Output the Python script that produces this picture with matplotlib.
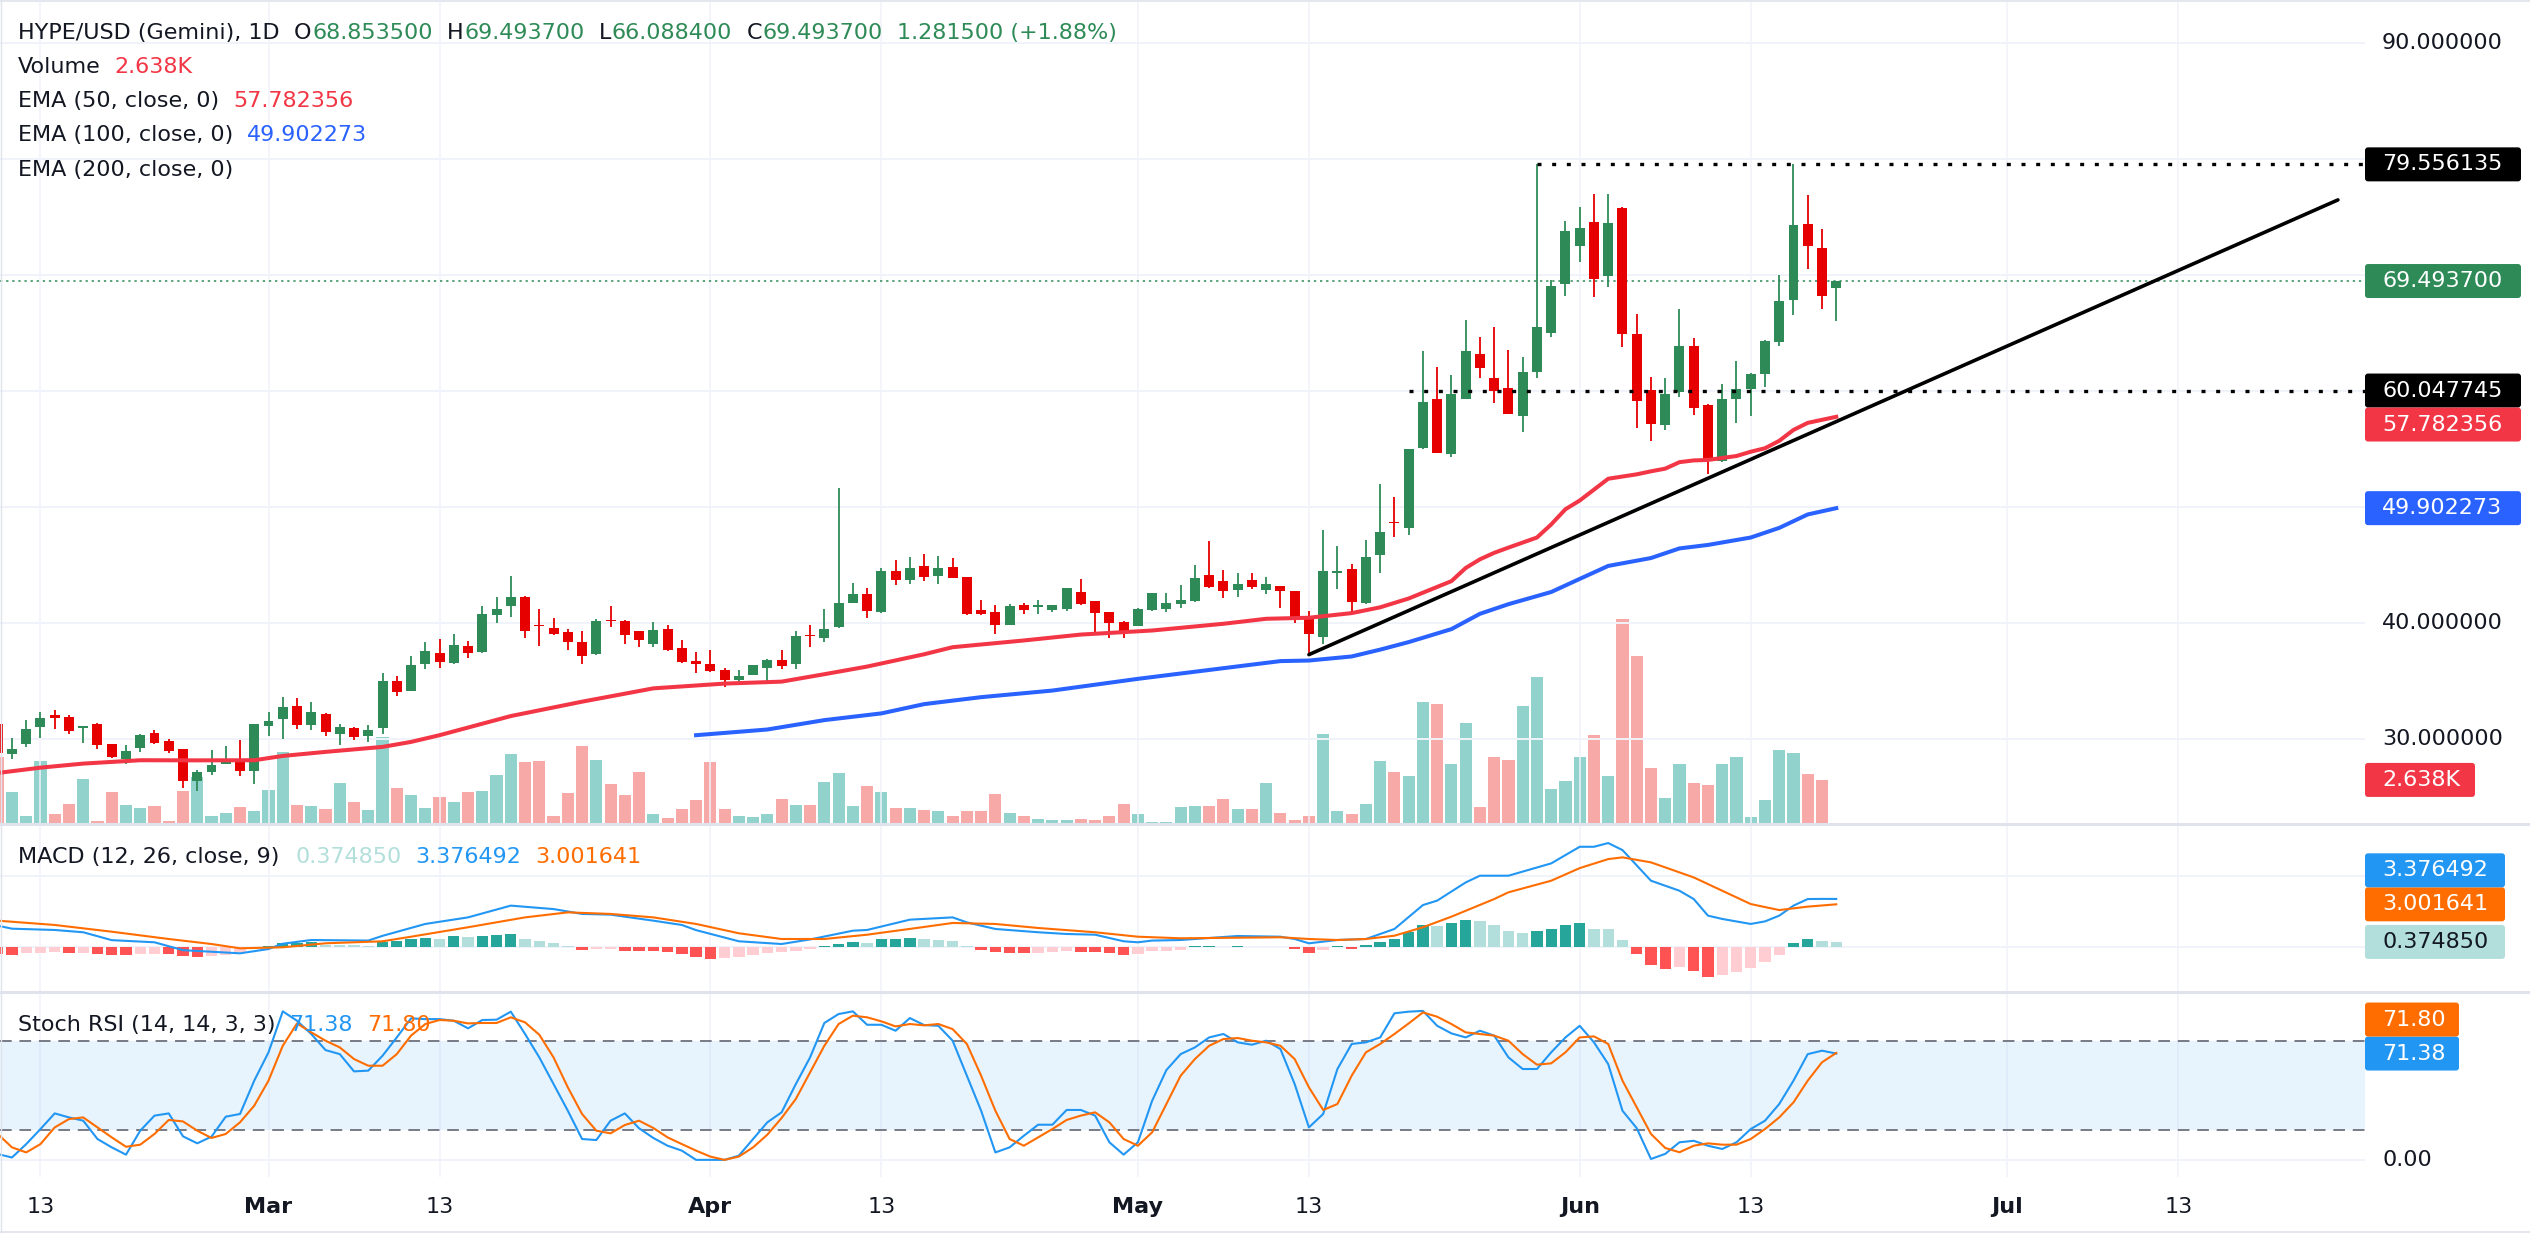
import numpy as np
import matplotlib
matplotlib.use("Agg")
import matplotlib.pyplot as plt
import matplotlib.transforms as mtransforms
from matplotlib.patches import FancyBboxPatch
from matplotlib.lines import Line2D

# ---- data (day 0 = 2025-02-10, day 129 = 2025-06-19) ----
opens = [31.27, 28.73, 29.60, 31.04, 32.05, 31.87, 30.95, 31.27, 29.54, 28.27,
         29.22, 30.52, 29.80, 29.11, 26.37, 27.15, 27.84, 28.07, 27.23, 31.12,
         31.73, 32.82, 31.21, 32.13, 30.43, 30.98, 30.23, 30.95, 34.96, 34.15,
         36.48, 37.38, 36.57, 38.04, 37.49, 40.66, 41.45, 42.25, 39.86, 39.57,
         39.19, 38.32, 37.31, 40.20, 40.20, 39.28, 38.18, 39.45, 37.80, 36.76,
         36.50, 35.98, 35.06, 35.52, 36.10, 36.82, 36.45, 38.95, 38.70, 39.62,
         41.71, 42.46, 40.92, 44.45, 43.70, 44.88, 44.01, 44.79, 43.96, 41.08,
         40.91, 39.81, 41.51, 41.40, 41.08, 41.17, 42.63, 41.86, 40.91, 40.04,
         39.73, 41.11, 41.19, 41.60, 41.88, 44.10, 43.58, 42.83, 43.67, 42.83,
         43.18, 42.72, 40.50, 38.78, 44.30, 44.62, 41.68, 45.86, 48.68, 48.20,
         55.08, 59.29, 54.59, 59.32, 63.23, 61.17, 60.30, 57.86, 61.65, 65.00,
         69.21, 72.48, 74.62, 69.92, 75.83, 64.92, 60.11, 57.07, 59.96, 63.91,
         58.83, 53.95, 59.32, 60.15, 61.47, 64.21, 67.86, 74.40, 72.37, 68.8535]
highs = [31.35, 30.12, 31.67, 32.28, 32.48, 32.05, 31.12, 31.38, 29.60, 29.45,
         30.40, 30.81, 29.97, 29.15, 27.30, 29.02, 29.42, 29.88, 31.30, 32.28,
         33.60, 33.49, 33.17, 32.25, 31.27, 31.02, 31.18, 35.65, 35.42, 37.15,
         38.33, 38.59, 39.05, 38.41, 41.50, 42.28, 44.02, 42.30, 41.24, 40.43,
         39.45, 39.34, 40.35, 41.50, 40.22, 39.30, 40.09, 39.86, 38.55, 37.46,
         37.69, 36.15, 35.98, 36.40, 36.85, 37.69, 39.28, 39.86, 41.24, 51.62,
         43.41, 43.03, 44.77, 45.40, 45.66, 45.92, 45.74, 45.57, 44.00, 41.94,
         41.51, 41.65, 41.71, 41.94, 41.55, 43.00, 43.76, 41.90, 40.95, 40.20,
         41.28, 42.60, 42.55, 43.24, 44.96, 47.04, 44.53, 44.27, 44.27, 43.93,
         43.20, 42.72, 40.99, 48.04, 46.60, 45.11, 47.12, 52.00, 50.86, 55.00,
         63.42, 62.11, 61.43, 66.17, 64.66, 65.53, 63.53, 62.97, 79.556135, 69.62,
         74.70, 75.86, 76.99, 76.99, 75.86, 66.62, 61.24, 61.09, 67.11, 64.55,
         58.90, 60.60, 62.59, 61.60, 64.40, 70.00, 79.556135, 76.95, 74.02, 69.4937]
lows = [28.70, 28.30, 29.31, 30.09, 30.86, 30.46, 29.65, 29.16, 28.36, 27.87,
        28.88, 29.60, 28.79, 25.79, 25.50, 26.86, 27.80, 26.80, 26.14, 30.26,
        30.00, 30.86, 30.75, 30.23, 29.45, 29.88, 29.74, 30.40, 33.69, 34.10,
        36.05, 36.14, 36.50, 36.97, 37.40, 39.97, 40.49, 38.70, 38.01, 39.00,
        37.66, 36.45, 37.25, 39.62, 38.18, 37.92, 37.92, 37.60, 36.53, 35.66,
        35.80, 34.45, 35.00, 35.50, 35.03, 36.00, 36.00, 37.92, 38.35, 39.60,
        41.70, 40.43, 40.90, 43.27, 43.35, 43.61, 43.32, 43.85, 40.70, 40.70,
        39.04, 39.80, 40.76, 40.76, 40.93, 41.02, 41.54, 39.06, 38.72, 38.72,
        39.70, 41.05, 40.93, 41.28, 41.85, 43.00, 42.14, 42.23, 42.92, 42.49,
        41.28, 39.99, 37.42, 38.17, 42.92, 40.76, 41.60, 44.30, 47.44, 47.56,
        55.00, 54.70, 54.32, 59.30, 61.17, 58.98, 58.00, 56.47, 61.09, 64.66,
        68.23, 71.13, 68.12, 68.95, 63.80, 56.84, 55.71, 56.65, 59.51, 57.97,
        52.82, 53.90, 57.26, 57.86, 60.34, 63.87, 66.54, 70.56, 67.11, 66.0884]
closes = [28.80, 29.16, 30.89, 31.76, 31.82, 30.69, 31.10, 29.51, 28.44, 28.93,
          30.32, 29.65, 28.99, 26.37, 27.18, 27.78, 28.16, 27.23, 31.27, 31.53,
          32.71, 31.21, 32.31, 30.61, 31.01, 30.20, 30.81, 34.99, 34.06, 36.37,
          37.58, 36.66, 38.07, 37.42, 40.81, 41.24, 42.28, 39.28, 39.72, 39.05,
          38.35, 37.14, 40.20, 40.14, 38.99, 38.53, 39.36, 37.66, 36.62, 36.47,
          35.84, 35.06, 35.46, 36.39, 36.82, 36.30, 38.90, 38.85, 39.51, 41.68,
          42.46, 41.01, 44.45, 43.70, 44.71, 43.96, 44.71, 43.87, 40.76, 40.76,
          39.81, 41.45, 41.08, 41.48, 41.51, 42.98, 41.63, 40.85, 39.99, 39.29,
          41.17, 42.55, 41.68, 41.94, 43.84, 43.09, 42.75, 43.32, 43.09, 43.32,
          42.75, 40.50, 39.04, 44.45, 44.45, 41.77, 45.65, 47.85, 48.60, 55.00,
          59.10, 54.70, 59.77, 63.42, 62.03, 60.04, 58.01, 61.65, 65.53, 69.10,
          73.83, 74.06, 69.66, 74.51, 64.92, 59.14, 57.14, 59.77, 63.91, 58.53,
          54.02, 59.32, 60.15, 61.47, 64.29, 67.78, 74.32, 72.48, 68.2122, 69.4937]
volumes = [4.0, 1.94, 0.5, 3.8, 0.62, 1.22, 2.72, 0.2, 1.94, 1.16,
           0.98, 1.1, 0.2, 2.0, 2.8, 0.5, 0.68, 1.04, 0.8, 2.06,
           4.28, 1.16, 1.1, 0.92, 2.48, 1.34, 0.86, 5.18, 2.18, 1.76,
           0.98, 1.64, 1.34, 1.94, 2.0, 2.94, 4.2, 3.72, 3.78, 0.48,
           1.86, 4.66, 3.84, 2.4, 1.74, 3.12, 0.6, 0.36, 0.9, 1.44,
           3.72, 0.9, 0.48, 0.42, 0.6, 1.5, 1.14, 1.14, 2.52, 3.06,
           1.08, 2.28, 1.92, 0.96, 0.96, 0.84, 0.8, 0.5, 0.8, 0.8,
           1.82, 0.68, 0.5, 0.32, 0.26, 0.26, 0.32, 0.26, 0.5, 1.22,
           0.62, 0.14, 0.14, 1.04, 1.1, 1.1, 1.52, 0.92, 0.92, 2.48,
           0.68, 0.26, 0.5, 5.36, 0.8, 0.62, 1.22, 3.8, 3.12, 2.88,
           7.33, 7.2, 3.61, 6.02, 1.02, 4.03, 3.82, 7.09, 8.82, 2.12,
           2.59, 4.03, 5.34, 2.88, 12.3, 10.08, 3.38, 1.57, 3.61, 2.46,
           2.36, 3.61, 4.03, 0.42, 1.44, 4.4, 4.27, 3.01, 2.638, 0.0]
volume_last = 2.638

ema50_days = [0, 3, 6, 10, 14, 18, 20, 23, 27, 29, 31, 33, 36, 41, 46, 51, 55, 58, 61, 65,
              67, 72, 76, 81, 86, 89, 92, 95, 97, 99, 102, 103, 104, 105, 106, 108, 109, 110,
              111, 112, 113, 115, 116, 117, 118, 119, 120, 122, 123, 124, 125, 126, 127, 129]
ema50_vals = [27.06, 27.52, 27.87, 28.16, 28.15, 28.16, 28.53, 28.88, 29.31, 29.74, 30.32, 30.98,
              31.97, 33.21, 34.36, 34.77, 34.94, 35.58, 36.24, 37.30, 37.91, 38.49, 39.00, 39.35,
              39.93, 40.36, 40.45, 40.85, 41.35, 42.11, 43.61, 44.74, 45.49, 46.05, 46.50, 47.37,
              48.50, 49.81, 50.56, 51.50, 52.44, 52.82, 53.08, 53.31, 53.87, 54.02, 54.06, 54.40,
              54.77, 55.07, 55.71, 56.65, 57.26, 57.782356]
ema100_days = [49, 54, 58, 62, 65, 69, 74, 80, 86, 90, 92, 95, 97, 99, 102, 104, 106, 109,
               111, 113, 116, 118, 120, 123, 125, 127, 129]
ema100_vals = [30.32, 30.81, 31.62, 32.20, 33.00, 33.60, 34.17, 35.18, 36.10, 36.71, 36.76,
               37.11, 37.70, 38.35, 39.47, 40.79, 41.62, 42.67, 43.80, 44.92, 45.60, 46.43,
               46.73, 47.37, 48.20, 49.36, 49.902273]

macd_days = [0, 1, 4, 6, 8, 11, 13, 17, 19, 20, 22, 26, 27, 30, 33, 36, 39, 41, 43, 46, 48, 49,
             52, 55, 57, 60, 61, 64, 67, 68, 70, 73, 75, 77, 79, 80, 81, 83, 87, 90, 91, 92, 94,
             96, 98, 100, 101, 103, 104, 106, 109, 111, 112, 113, 114, 116, 118, 119, 120, 121,
             123, 124, 125, 126, 127, 128, 129]
macd_vals = [1.51, 1.30, 1.21, 1.05, 0.50, 0.35, -0.20, -0.42, -0.12, 0.25, 0.51, 0.47, 0.80,
             1.63, 2.09, 2.91, 2.67, 2.33, 2.28, 1.86, 1.56, 1.20, 0.42, 0.23, 0.55, 1.16, 1.21,
             1.93, 2.09, 1.74, 1.28, 1.05, 0.93, 0.88, 0.42, 0.35, 0.47, 0.51, 0.79, 0.74, 0.58,
             0.28, 0.51, 0.58, 1.28, 2.95, 3.26, 4.53, 5.00, 5.00, 5.86, 7.02, 7.02, 7.28, 6.79,
             4.65, 3.95, 3.37, 2.21, 1.98, 1.63, 1.81, 2.21, 2.91, 3.37, 3.38, 3.376492]
signal_days = [0, 4, 8, 12, 15, 17, 20, 23, 27, 29, 33, 37, 40, 43, 46, 49, 52, 55, 58, 61, 65,
               67, 70, 73, 77, 80, 83, 90, 92, 94, 96, 98, 100, 102, 105, 106, 109, 111, 113,
               114, 116, 119, 121, 123, 125, 127, 129]
signal_vals = [1.86, 1.56, 1.09, 0.58, 0.23, -0.07, 0.00, 0.28, 0.42, 0.74, 1.40, 2.09, 2.44,
               2.33, 2.09, 1.63, 0.98, 0.58, 0.58, 0.88, 1.42, 1.70, 1.63, 1.35, 1.05, 0.74,
               0.63, 0.70, 0.58, 0.51, 0.58, 0.81, 1.40, 2.14, 3.37, 3.84, 4.65, 5.53, 6.16,
               6.28, 5.93, 4.88, 3.95, 3.02, 2.60, 2.84, 3.001641]
hist = [-0.50, -0.51, -0.42, -0.37, -0.33, -0.43, -0.42, -0.47, -0.56, -0.57,
        -0.49, -0.47, -0.48, -0.58, -0.65, -0.58, -0.53, -0.35, -0.05, 0.07,
        0.28, 0.33, 0.37, 0.19, 0.16, 0.14, 0.09, 0.40, 0.47, 0.58,
        0.63, 0.60, 0.81, 0.70, 0.81, 0.86, 0.93, 0.58, 0.47, 0.28,
        0.09, -0.16, -0.14, -0.13, -0.23, -0.26, -0.28, -0.35, -0.47, -0.65,
        -0.80, -0.78, -0.65, -0.53, -0.42, -0.33, -0.23, -0.14, 0.07, 0.23,
        0.35, 0.33, 0.56, 0.58, 0.65, 0.55, 0.51, 0.47, 0.07, -0.16,
        -0.36, -0.37, -0.38, -0.37, -0.36, -0.28, -0.30, -0.31, -0.42, -0.51,
        -0.44, -0.26, -0.23, -0.16, 0.09, 0.10, 0.05, 0.09, 0.05, 0.04,
        0.03, -0.14, -0.37, -0.16, 0.09, -0.12, 0.16, 0.35, 0.58, 1.05,
        1.56, 1.51, 1.70, 1.91, 1.81, 1.56, 1.16, 1.00, 1.16, 1.28,
        1.56, 1.70, 1.28, 1.27, 0.51, -0.47, -1.23, -1.51, -1.40, -1.63,
        -2.05, -1.91, -1.70, -1.44, -1.00, -0.53, 0.30, 0.58, 0.47, 0.374850]

stoch_k = [3.9, 1.6, 10.6, 20.7, 31.2, 28.5, 26.3, 14.0, 8.4, 3.5,
           19.6, 29.7, 31.2, 15.8, 11.1, 15.6, 29.0, 30.8, 53.2, 72.2,
           99.7, 93.4, 84.5, 73.7, 71.0, 59.4, 59.9, 69.9, 82.2, 95.0,
           94.5, 94.5, 93.4, 88.3, 93.9, 94.1, 99.5, 84.5, 68.8, 50.9,
           33.0, 14.0, 13.3, 26.3, 31.2, 21.2, 14.7, 9.5, 6.2, 0.0,
           0.0, 0.0, 2.8, 14.0, 25.2, 31.9, 50.9, 68.8, 91.9, 97.9,
           99.7, 90.7, 90.7, 86.7, 95.2, 90.5, 90.0, 80.0, 56.5, 33.0,
           5.0, 8.4, 16.2, 23.6, 23.6, 33.5, 33.5, 29.7, 11.8, 3.5,
           11.8, 39.7, 60.3, 71.0, 75.5, 82.2, 84.5, 78.9, 77.3, 80.0,
           74.4, 50.9, 21.8, 30.8, 61.0, 77.8, 78.9, 82.2, 98.4, 99.5,
           100.0, 90.0, 84.9, 82.2, 86.7, 83.4, 68.8, 61.0, 61.0, 72.2,
           82.2, 90.0, 78.9, 64.3, 33.0, 21.3, 0.6, 4.0, 11.8, 12.8,
           9.5, 7.3, 11.8, 20.7, 26.3, 37.5, 53.2, 71.0, 73.3, 71.38]
stoch_d = [17.4, 8.4, 5.0, 10.6, 21.8, 27.4, 28.5, 21.8, 15.1, 8.8,
           10.2, 17.4, 26.8, 25.8, 19.6, 14.7, 17.4, 25.2, 36.4, 53.2,
           76.6, 91.6, 85.6, 80.0, 75.5, 67.7, 63.2, 63.2, 71.0, 83.4,
           91.2, 93.9, 93.4, 91.6, 91.9, 91.9, 95.7, 92.3, 84.0, 68.8,
           48.7, 30.8, 19.6, 17.8, 23.4, 26.3, 21.4, 15.1, 10.6, 6.2,
           2.2, 0.0, 2.2, 8.4, 16.9, 28.1, 40.9, 58.7, 76.6, 91.2,
           96.8, 95.7, 93.0, 89.6, 91.2, 90.3, 91.2, 87.8, 77.8, 56.5,
           33.0, 14.0, 9.5, 15.1, 20.7, 26.8, 29.7, 31.9, 25.2, 14.0,
           9.5, 18.5, 37.5, 56.5, 67.7, 76.6, 81.1, 81.8, 80.0, 78.9,
           76.6, 67.7, 48.7, 33.5, 37.5, 56.5, 72.2, 77.8, 84.5, 91.6,
           99.0, 96.1, 91.2, 85.6, 84.5, 83.4, 80.0, 71.0, 63.9, 64.8,
           72.2, 82.2, 82.9, 77.8, 53.2, 35.3, 17.4, 8.0, 5.1, 9.5,
           11.1, 10.2, 10.2, 14.0, 20.7, 28.5, 38.6, 53.2, 65.5, 71.80]

resistance = 79.556135
resistance_from = 108
support = 60.047745
support_from = 99
trend_days = [92, 164.2]
trend_vals = [37.27, 76.49]

tick_days = [3, 19, 31, 50, 62, 80, 92, 111, 123, 141, 153]
tick_labels = ["13", "Mar", "13", "Apr", "13", "May", "13", "Jun", "13", "Jul", "13"]

# ---- style ----
W, H, DPI = 2530, 1253, 100
FS = 16
DARK = "#131722"
UP, DOWN = "#2e8b57", "#e60000"
GRID = "#f0f3fa"
SEP = "#e0e3eb"
XMIN, XMAX = 0.16, 166.1
plt.rcParams["font.family"] = ["DejaVu Sans"]

fig = plt.figure(figsize=(W / DPI, H / DPI), dpi=DPI)
fig.patch.set_facecolor("white")


def rect(top, bottom, left=0, right=2365):
    return [left / W, 1 - bottom / H, (right - left) / W, (bottom - top) / H]


axv = fig.add_axes(rect(2, 824))
ax = fig.add_axes(rect(2, 824))
axm = fig.add_axes(rect(824, 991.7))
axs = fig.add_axes(rect(991.7, 1176.7))
axv.set_zorder(0)
ax.set_zorder(1)
for a in (axv, ax, axm, axs):
    a.axis("off")
    a.set_xlim(XMIN, XMAX)
ax.set_ylim(22.66, 93.56)
axv.set_ylim(0, 49.2)
axm.set_ylim(-3.1, 8.61)
axs.set_ylim(-11.3, 112.9)

days = np.arange(len(closes))
o, h, l, c = map(np.array, (opens, highs, lows, closes))
up = c >= o

# grid
for a in (ax, axm, axs):
    for d in tick_days:
        a.axvline(d, color=GRID, lw=1.1, zorder=0)
for v in range(30, 100, 10):
    ax.axhline(v, color=GRID, lw=1.4, zorder=0)
for v in (0, 5):
    axm.axhline(v, color=GRID, lw=1.4, zorder=0)
axs.axhline(0, color=GRID, lw=1.4, zorder=0)

# volume
vcols = ["#92d2cc" if u else "#f7a9a7" for u in up]
axv.bar(days, volumes, width=0.85, color=vcols, zorder=1)

# candles
ccols = [UP if u else DOWN for u in up]
ax.vlines(days, l, h, colors=ccols, lw=1.3, zorder=3)
ax.bar(days, np.maximum(np.abs(c - o), 0.12), bottom=np.minimum(o, c), width=0.7,
       color=ccols, zorder=4)

ax.plot(ema50_days, ema50_vals, color="#f23645", lw=2.9, zorder=5)
ax.plot(ema100_days, ema100_vals, color="#2962ff", lw=2.9, zorder=5)
ax.plot(trend_days, trend_vals, color="black", lw=2.6, zorder=6, solid_capstyle="round")
ax.plot([resistance_from, XMAX], [resistance] * 2, color="black", lw=2.4,
        linestyle=(0, (1.2, 3.2)), zorder=6)
ax.plot([support_from, XMAX], [support] * 2, color="black", lw=2.4,
        linestyle=(0, (1.2, 3.2)), zorder=6)
ax.axhline(closes[-1], color=UP, lw=1.1, linestyle=(0, (1.5, 2.5)), zorder=2)

# MACD
hcols = []
for i, v in enumerate(hist):
    prev = hist[i - 1] if i else v
    if v >= 0:
        hcols.append("#26a69a" if v > prev else "#b2dfdb")
    else:
        hcols.append("#ffcdd2" if v > prev else "#ff5252")
axm.bar(days, hist, width=0.8, color=hcols, zorder=2)
axm.plot(macd_days, macd_vals, color="#2196f3", lw=1.5, zorder=3)
axm.plot(signal_days, signal_vals, color="#ff6d00", lw=1.5, zorder=3)

# Stoch RSI
axs.axhspan(20, 80, color="#2196f3", alpha=0.1, lw=0, zorder=1)
for v in (80, 20):
    axs.axhline(v, color="#787b86", lw=1.4, linestyle=(0, (6, 4)), zorder=2)
axs.plot(days, stoch_k, color="#2196f3", lw=1.5, zorder=3)
axs.plot(days, stoch_d, color="#ff6d00", lw=1.5, zorder=3)

# panel separators / frame
for y, lw in ((824, 2.2), (991.7, 2.2), (1.0, 1.2), (1232, 1.2)):
    fig.add_artist(Line2D([0, 1], [1 - y / H] * 2, transform=fig.transFigure, color=SEP, lw=lw))
fig.add_artist(Line2D([0.5 / W] * 2, [1 - 1232 / H, 1], transform=fig.transFigure,
                      color=SEP, lw=1.0))

# time axis labels
tt = mtransforms.blended_transform_factory(axs.transData, fig.transFigure)
for d, s in zip(tick_days, tick_labels):
    axs.text(d, 1 - 1207 / H, s, transform=tt, ha="center", va="center", fontsize=FS,
             color=DARK, fontweight="normal" if s.isdigit() else "bold")


def ypx(a, v):
    return H - a.transData.transform((0, v))[1]


tag_ys = []


def tag(yc, text, bg, fg, width):
    box = FancyBboxPatch((2365, H - yc - 17), width, 34,
                         boxstyle="round,pad=0,rounding_size=3",
                         transform=mtransforms.IdentityTransform(), fc=bg, ec="none", zorder=10)
    fig.add_artist(box)
    fig.text(2382 / W, 1 - yc / H, text, fontsize=FS, color=fg, va="center", zorder=11)
    tag_ys.append(yc)


main_tags = [(resistance, f"{resistance:.6f}", "#000000", "white"),
             (closes[-1], f"{closes[-1]:.6f}", UP, "white"),
             (support, f"{support:.6f}", "#000000", "white"),
             (ema50_vals[-1], f"{ema50_vals[-1]:.6f}", "#f23645", "white"),
             (ema100_vals[-1], f"{ema100_vals[-1]:.6f}", "#2962ff", "white")]
prev = -1e9
for v, s, bg, fg in main_tags:
    y = max(ypx(ax, v), prev + 34)
    tag(y, s, bg, fg, 156)
    prev = y
tag(ypx(axv, volume_last), f"{volume_last:.3f}K", "#f23645", "white", 110)

macd_tags = [(macd_vals[-1], "#2196f3", "white"), (signal_vals[-1], "#ff6d00", "white"),
             (hist[-1], "#b2dfdb", DARK)]
nxt = 1e9
for v, bg, fg in sorted(macd_tags, key=lambda t: -ypx(axm, t[0])):
    y = min(ypx(axm, v), nxt - 34)
    tag(y, f"{v:.6f}", bg, fg, 140)
    nxt = y
stoch_tags = [(stoch_k[-1], "#2196f3"), (stoch_d[-1], "#ff6d00")]
nxt = 1e9
for v, bg in sorted(stoch_tags, key=lambda t: -ypx(axs, t[0])):
    y = min(ypx(axs, v), nxt - 34)
    tag(y, f"{v:.2f}", bg, "white", 94)
    nxt = y


# price scale labels, only where no tag covers them
def scale_label(a, v, fmt):
    y = ypx(a, v)
    if all(abs(y - t) > 30 for t in tag_ys):
        fig.text(2382 / W, 1 - y / H, fmt.format(v), fontsize=FS, color=DARK, va="center",
                 zorder=5)


for v in range(30, 100, 10):
    scale_label(ax, v, "{:.6f}")
for v in (0, 5):
    scale_label(axm, v, "{:.6f}")
for v in (0, 100):
    scale_label(axs, v, "{:.2f}")

# legends
renderer = fig.canvas.get_renderer()


def chain(y, parts, x0=18):
    x = x0
    for s, col, gap in parts:
        t = fig.text(x / W, 1 - y / H, s, color=col, fontsize=FS, va="center", zorder=20)
        x += t.get_window_extent(renderer).width + gap


chg = closes[-1] - closes[-2]
chain(33, [("HYPE/USD (Gemini), 1D", DARK, 14),
           ("O", DARK, 1), (f"{opens[-1]:.6f}", UP, 14),
           ("H", DARK, 1), (f"{highs[-1]:.6f}", UP, 14),
           ("L", DARK, 1), (f"{lows[-1]:.6f}", UP, 14),
           ("C", DARK, 1), (f"{closes[-1]:.6f}", UP, 14),
           (f"{chg:.6f} (+{chg / closes[-2] * 100:.2f}%)", UP, 0)])
chain(67, [("Volume", DARK, 14), (f"{volume_last:.3f}K", "#f23645", 0)])
chain(101, [("EMA (50, close, 0)", DARK, 14), (f"{ema50_vals[-1]:.6f}", "#f23645", 0)])
chain(135, [("EMA (100, close, 0)", DARK, 14), (f"{ema100_vals[-1]:.6f}", "#2962ff", 0)])
chain(170, [("EMA (200, close, 0)", DARK, 0)])
chain(857, [("MACD (12, 26, close, 9)", DARK, 16), (f"{hist[-1]:.6f}", "#b2dfdb", 14),
            (f"{macd_vals[-1]:.6f}", "#2196f3", 14), (f"{signal_vals[-1]:.6f}", "#ff6d00", 0)])
chain(1025, [("Stoch RSI (14, 14, 3, 3)", DARK, 14), (f"{stoch_k[-1]:.2f}", "#2196f3", 14),
             (f"{stoch_d[-1]:.2f}", "#ff6d00", 0)])

fig.savefig("out.png", dpi=DPI)
